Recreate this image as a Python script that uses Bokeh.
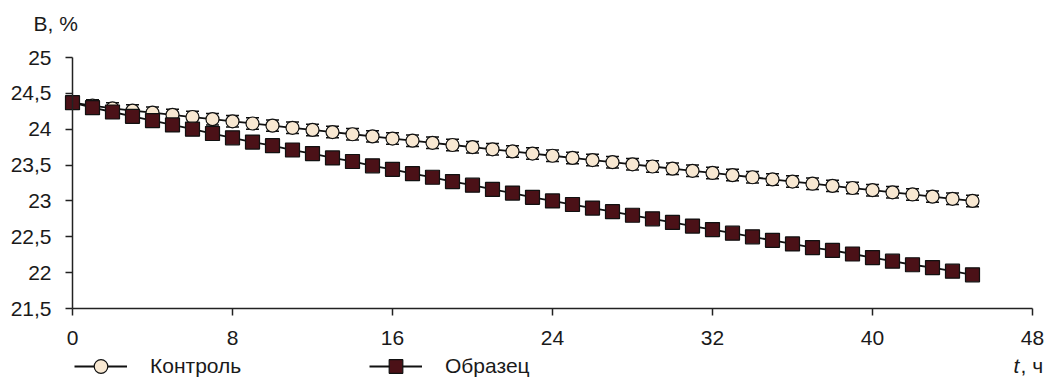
from bokeh.plotting import figure
from bokeh.models import ColumnDataSource, Whisker, Legend, LegendItem, Label, FixedTicker, Range1d
from bokeh.embed import file_html
from bokeh.resources import INLINE

hours = list(range(0, 46))
control = [24.37, 24.33, 24.29, 24.26, 24.23, 24.20, 24.17, 24.14, 24.11, 24.08,
           24.05, 24.02, 23.99, 23.96, 23.93, 23.90, 23.87, 23.84, 23.81, 23.78,
           23.75, 23.72, 23.69, 23.66, 23.63, 23.60, 23.57, 23.54, 23.51, 23.48,
           23.45, 23.42, 23.39, 23.36, 23.33, 23.30, 23.27, 23.24, 23.21, 23.18,
           23.15, 23.12, 23.09, 23.06, 23.03, 23.00]
sample = [24.37, 24.30, 24.24, 24.18, 24.12, 24.06, 24.00, 23.94, 23.88,
          23.82, 23.77, 23.71, 23.66, 23.60, 23.55, 23.49, 23.44,
          23.38, 23.33, 23.27, 23.22, 23.16, 23.11, 23.05, 23.00,
          22.95, 22.90, 22.85, 22.80, 22.75, 22.70, 22.65, 22.60,
          22.55, 22.50, 22.45, 22.40, 22.35, 22.31, 22.26, 22.21,
          22.16, 22.11, 22.07, 22.02, 21.97]
control_err = [0.08] * 46
sample_err = [0.05] * 46

x_ticks = [0, 8, 16, 24, 32, 40, 48]
y_ticks = [21.5, 22, 22.5, 23, 23.5, 24, 24.5, 25]
y_tick_labels = ["21,5", "22", "22,5", "23", "23,5", "24", "24,5", "25"]
series_names = ["Контроль", "Образец"]
y_title = "В, %"
x_title_var = "t"
x_title_unit = ", ч"

FONT = "Liberation Sans"
FS = "21px"
TXT = "#1a1a1a"

W, H = 1044, 377
X0_PX, PX_PER_H = 72, 20.0          # x = 0 at 72 px, 20 px per hour
Y25_PX, PX_PER_U = 57, 251 / 3.5     # y = 25 at 57 px
x_lo = -X0_PX / PX_PER_H
x_hi = x_lo + W / PX_PER_H
y_hi = 25 + Y25_PX / PX_PER_U
y_lo = 25 - (H - Y25_PX) / PX_PER_U

p = figure(width=W, height=H, output_backend="svg", toolbar_location=None,
           x_range=Range1d(x_lo, x_hi), y_range=Range1d(y_lo, y_hi),
           min_border=0)
p.outline_line_color = None
p.xgrid.grid_line_color = None
p.ygrid.grid_line_color = None
p.background_fill_color = "white"
p.border_fill_color = "white"

for ax in (p.xaxis[0], p.yaxis[0]):
    ax.axis_line_color = "#222222"
    ax.axis_line_width = 1.5
    ax.major_tick_line_color = "#222222"
    ax.major_tick_line_width = 1.5
    ax.major_tick_out = 7
    ax.major_tick_in = 0
    ax.minor_tick_line_color = None
    ax.major_label_text_font = FONT
    ax.major_label_text_font_size = FS
    ax.major_label_text_color = TXT

p.xaxis.fixed_location = y_ticks[0]
p.xaxis.bounds = (x_ticks[0], x_ticks[-1])
p.xaxis.ticker = FixedTicker(ticks=x_ticks)
p.xaxis.major_label_standoff = 15
p.yaxis.fixed_location = x_ticks[0]
p.yaxis.bounds = (y_ticks[0], y_ticks[-1])
p.yaxis.ticker = FixedTicker(ticks=y_ticks)
p.yaxis.major_label_overrides = {v: s for v, s in zip(y_ticks, y_tick_labels)}
p.yaxis.major_label_standoff = 14

c_src = ColumnDataSource(dict(x=hours, y=control,
                              lo=[v - e for v, e in zip(control, control_err)],
                              hi=[v + e for v, e in zip(control, control_err)]))
s_src = ColumnDataSource(dict(x=hours, y=sample,
                              lo=[v - e for v, e in zip(sample, sample_err)],
                              hi=[v + e for v, e in zip(sample, sample_err)]))

for src in (c_src, s_src):
    w = Whisker(source=src, base="x", upper="hi", lower="lo", level="underlay",
                line_color="#111111", line_width=1.2)
    w.upper_head.size = 13
    w.lower_head.size = 13
    w.upper_head.line_color = "#111111"
    w.lower_head.line_color = "#111111"
    w.upper_head.line_width = 1.5
    w.lower_head.line_width = 1.5
    p.add_layout(w)

cl = p.line("x", "y", source=c_src, line_color="#111111", line_width=1.8)
cm = p.scatter("x", "y", source=c_src, marker="circle", size=13,
               fill_color="#F8E8D2", line_color="#111111", line_width=1.2)
sl = p.line("x", "y", source=s_src, line_color="#111111", line_width=1.8)
sm = p.scatter("x", "y", source=s_src, marker="square", size=14,
               fill_color="#4B1117", line_color="#111111", line_width=1.2)

def make_legend(name, renderers, x):
    lg = Legend(items=[LegendItem(label=name, renderers=renderers)],
                location=(x, -6), orientation="horizontal",
                glyph_width=53, glyph_height=34, label_standoff=23,
                padding=0, margin=0, border_line_color=None,
                background_fill_alpha=0,
                label_text_font=FONT, label_text_font_size=FS, label_text_color=TXT)
    p.add_layout(lg, "center")

make_legend(series_names[0], [cl, cm], 74)
make_legend(series_names[1], [sl, sm], 369)

p.add_layout(Label(x=33, y=354, x_units="screen", y_units="screen", text=y_title,
                   text_font=FONT, text_font_size=FS, text_color=TXT,
                   text_baseline="middle", text_align="left"))
p.add_layout(Label(x=1013, y=12, x_units="screen", y_units="screen", text=x_title_var,
                   text_font=FONT, text_font_size=FS, text_font_style="italic",
                   text_color=TXT, text_baseline="middle", text_align="left"))
p.add_layout(Label(x=1020, y=12, x_units="screen", y_units="screen", text=x_title_unit,
                   text_font=FONT, text_font_size=FS, text_color=TXT,
                   text_baseline="middle", text_align="left"))

open("out.html", "w").write(file_html(p, INLINE))
